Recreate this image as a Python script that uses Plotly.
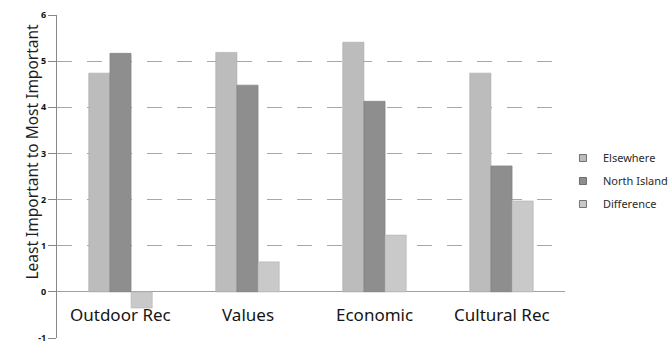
import plotly.graph_objects as go

# Survey importance ratings by category
categories = ["Outdoor Rec", "Values", "Economic", "Cultural Rec"]
elsewhere = [4.74, 5.19, 5.41, 4.74]
north_island = [5.17, 4.48, 4.13, 2.73]
difference = [-0.35, 0.65, 1.23, 1.97]

y_ticks = [-1, 0, 1, 2, 3, 4, 5, 6]

series = [
    ("Elsewhere", elsewhere, "#bcbcbc", "#a9a9a9"),
    ("North Island", north_island, "#8e8e8e", "#7c7c7c"),
    ("Difference", difference, "#c9c9c9", "#b4b4b4"),
]

font_family = "Noto Sans, Open Sans, DejaVu Sans, sans-serif"

fig = go.Figure()
for name, vals, fill, edge in series:
    fig.add_trace(go.Bar(
        name=name,
        x=categories,
        y=vals,
        showlegend=False,
        legendgroup=name,
        marker=dict(color=fill, line=dict(color=edge, width=0.6)),
    ))

# Small square swatches for the legend
for name, vals, fill, edge in series:
    fig.add_trace(go.Scatter(
        name=name,
        x=[None], y=[None],
        mode="markers",
        legendgroup=name,
        marker=dict(symbol="square", size=7, color=fill,
                    line=dict(color="#555555", width=0.8)),
    ))

# Category names sit inside the plot, just below the zero line
for cat in categories:
    fig.add_annotation(
        x=cat, y=-0.5, xref="x", yref="y",
        text=cat, showarrow=False,
        font=dict(family=font_family, size=17, color="#151515"),
    )

# Vertical axis title, centred on the 0-6 scale
fig.add_annotation(
    x=-0.074, y=3.05, xref="paper", yref="y",
    text="Least Important to Most Important",
    textangle=-90, showarrow=False,
    font=dict(family=font_family, size=15.5, color="#1e1e1e"),
)

fig.update_layout(
    width=668,
    height=347,
    margin=dict(l=57, r=103, t=15, b=9, autoexpand=False),
    paper_bgcolor="white",
    plot_bgcolor="white",
    barmode="group",
    bargap=0.5,
    bargroupgap=0,
    font=dict(family=font_family, color="#333333"),
    showlegend=True,
    legend=dict(
        x=0.996, y=0.486, xanchor="left", yanchor="middle",
        font=dict(family=font_family, size=11, color="#2a2a2a"),
        traceorder="grouped",
        tracegroupgap=4,
        itemwidth=30,
        bgcolor="rgba(0,0,0,0)",
    ),
    xaxis=dict(
        showticklabels=False,
        showgrid=False,
        showline=False,
        ticks="",
        range=[-0.5, 3.5],
    ),
    yaxis=dict(
        range=[-1, 6],
        tickvals=y_ticks,
        ticktext=[str(v) for v in y_ticks],
        tickfont=dict(family=font_family, size=9, color="#111111", weight="bold"),
        showline=True,
        linecolor="#888888",
        linewidth=1,
        ticks="outside",
        ticklen=8,
        tickcolor="#888888",
        showgrid=True,
        gridcolor="#a8a8a8",
        gridwidth=1,
        griddash="longdash",
        zeroline=True,
        zerolinecolor="#a0a0a0",
        zerolinewidth=1,
    ),
)

fig.write_html("out.html")
